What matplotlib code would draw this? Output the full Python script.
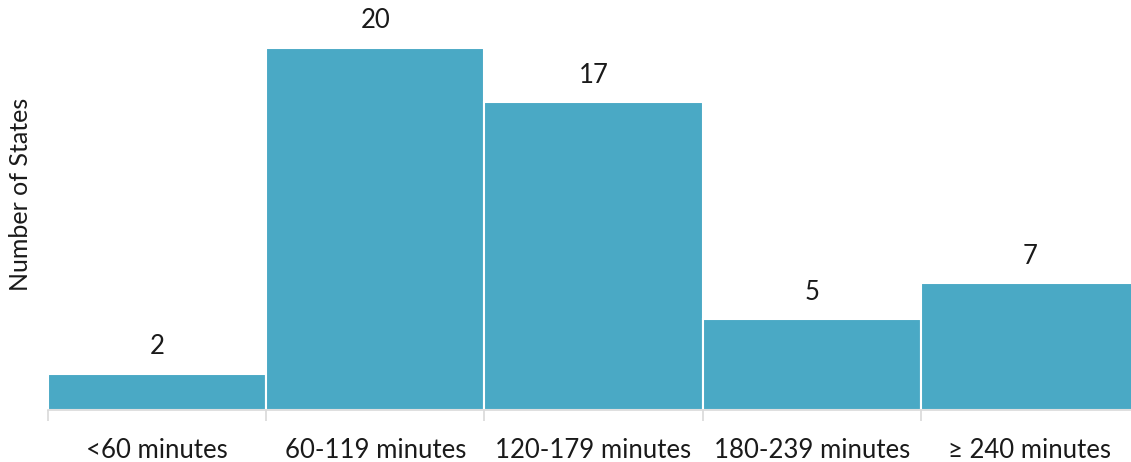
import numpy as np
import matplotlib
matplotlib.use("Agg")
from matplotlib import pyplot as plt

categories = ['<60 minutes', '60-119 minutes', '120-179 minutes', '180-239 minutes', '≥ 240 minutes']
counts = [2, 20, 17, 5, 7]

plt.rcParams['font.family'] = ['Lato', 'DejaVu Sans']

fig = plt.figure(figsize=(11.31, 4.62), dpi=100)
ax = fig.add_axes([48/1131, 52/462, 1091/1131, 410/462])

x = np.arange(len(categories))
ax.bar(x, counts, width=1.0, color='#4AA9C5', edgecolor='white', linewidth=1.5)

for xi, c in zip(x, counts):
    ax.text(xi, c + 0.8, str(c), ha='center', va='bottom', fontsize=18.5, color='#1a1a1a')

ax.set_xlim(-0.5, 4.5)
ax.set_ylim(0, 22.65)

for s in ['top', 'right', 'left']:
    ax.spines[s].set_visible(False)
ax.spines['bottom'].set_color('#d9d9d9')
ax.spines['bottom'].set_linewidth(1.2)

ax.set_xticks(x)
ax.set_xticklabels(categories, fontsize=18.5, color='#1a1a1a')
ax.tick_params(axis='x', which='major', length=0, pad=20)
ax.set_xticks(np.arange(-0.5, 5.0, 1.0), minor=True)
ax.tick_params(axis='x', which='minor', length=8, color='#d9d9d9', width=1.2)
ax.set_yticks([])
ax.set_ylabel('Number of States', fontsize=18, color='#1a1a1a')
ax.yaxis.set_label_coords(-16/1091, 0.525)

fig.savefig('out.png', dpi=100)
